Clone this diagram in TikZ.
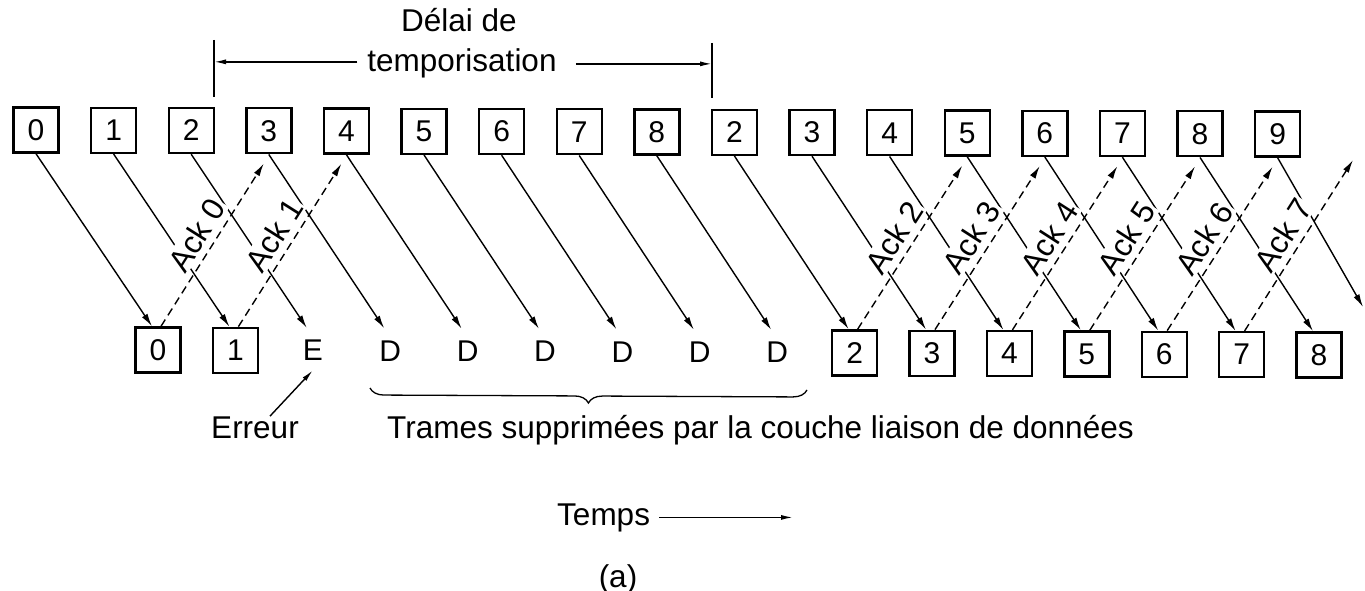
\documentclass[tikz,border=0pt]{standalone}
\usepackage{fontspec}
\setmainfont{Liberation Sans}
\usetikzlibrary{arrows.meta,calc,decorations.pathreplacing}
\begin{document}
\begin{tikzpicture}[x=1pt,y=-1pt,
  every node/.style={font=\fontsize{31.5}{36}\selectfont},
  frame/.style={draw,line width=2.4pt,minimum size=45pt,inner sep=0pt,font=\fontsize{30}{36}\selectfont},
  slot/.style={minimum size=45pt,inner sep=0pt,font=\fontsize{30}{36}\selectfont},
  data/.style={line width=1.4pt,-{Latex[length=13pt,width=6.5pt]}},
  ack/.style={line width=1.4pt,dash pattern=on 8pt off 5pt,-{Latex[length=13pt,width=6.5pt]}},
  acklbl/.style={sloped,above=5pt,fill=white,inner sep=1.5pt},
  tarrow/.style={line width=1.4pt,-{Latex[length=12pt,width=5pt]}},
  lbl/.style={inner sep=0pt}]
\fill[white] (0,0) rectangle (1365,591);
\useasboundingbox (0,0) rectangle (1365,591);
% top row (sender)
\foreach \l [count=\i from 0] in {0,1,2,3,4,5,6,7,8,2,3,4,5,6,7,8,9}
  \node[frame] (t\i) at ({36+77.6*\i},{130+0.25*\i}) {\l};
% bottom row (receiver)
\foreach \l/\s [count=\j from 0] in {0/frame,1/frame,E/slot,D/slot,D/slot,D/slot,D/slot,D/slot,D/slot,2/frame,3/frame,4/frame,5/frame,6/frame,7/frame,8/frame}
  \node[\s] (b\j) at ({158+77.4*\j},{350+0.33*\j}) {\l};
% data frames
\foreach \i in {0,...,15}
  \draw[data] (t\i.south) -- ($(b\i.north)+(-6,0)$);
\coordinate (tend) at (1363,307);
\draw[data] (t16.south) -- (tend);
% acknowledgements
\foreach \j/\t/\n in {0/3/0,1/4/1,9/12/2,10/13/3,11/14/4,12/15/5,13/16/6}
  \draw[ack] ($(b\j.north)+(3,0)$) -- node[acklbl]{Ack \n} ($(t\t.south)+(-5,9)$);
\coordinate (aend) at (1353,160);
\draw[ack] ($(b14.north)+(3,0)$) -- node[acklbl]{Ack 7} (aend);
% timeout
\node[lbl,anchor=base] (d1) at (459,32) {Délai de};
\node[lbl,anchor=base] (d2) at (462,72) {temporisation};
\coordinate (v1a) at (214,40);
\coordinate (v1b) at (214,97);
\coordinate (v2a) at (712,43);
\coordinate (v2b) at (712,98);
\draw[line width=1.8pt] (v1a) -- (v1b);
\draw[line width=1.8pt] (v2a) -- (v2b);
\draw[tarrow] ($(d2.west)+(-10,-2)$) -- ($(d2.west -| v1a)+(0,-2)$);
\draw[tarrow] ($(d2.east)+(19,0)$) -- (d2.east -| v2a);
% bottom labels
\node[lbl,anchor=base] (err) at (255,438) {Erreur};
\draw[tarrow] ($(err.north)+(15,0)$) -- ($(b2.south)+(0,-3)$);
\node[lbl,anchor=base west] (supp) at (387,438) {Trames supprimées par la couche liaison de données};
\coordinate (br1) at (370,388);
\coordinate (br2) at (807,390);
\draw[line width=1.3pt,decorate,decoration={brace,mirror,amplitude=14pt}] (br1) -- (br2);
\node[lbl,anchor=base west] (temps) at (557,525) {Temps};
\coordinate (tarr) at (793,518);
\draw[tarrow] ($(temps.east)+(9,0)$) -- (tarr |- temps.east);
\node[lbl,anchor=base] (fig) at (618,587) {(a)};
\end{tikzpicture}
\end{document}
